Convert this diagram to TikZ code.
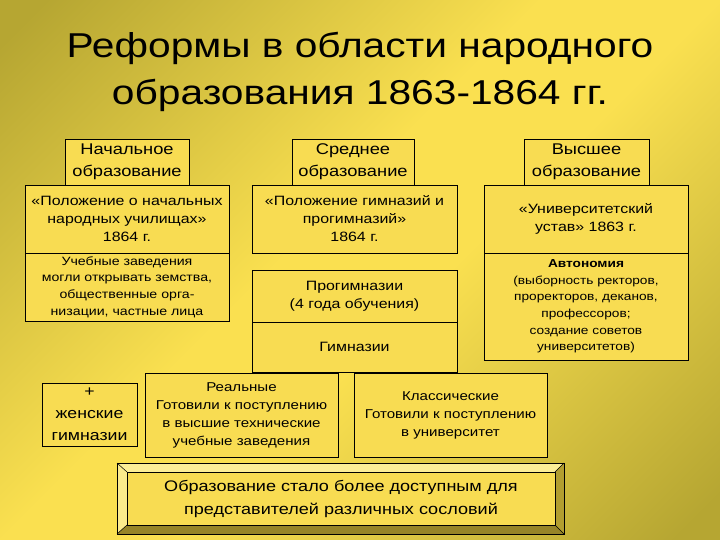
\documentclass[tikz,border=0pt]{standalone}
\usepackage{fontspec}
\setmainfont[FakeStretch=1.18]{Liberation Sans}
\definecolor{bgdark}{RGB}{182,166,50}
\definecolor{bglight}{RGB}{250,224,80}
\definecolor{boxfill}{RGB}{248,220,82}
\definecolor{bevellight}{RGB}{252,238,150}
\definecolor{beveldark}{RGB}{150,132,40}
\definecolor{bevelside}{RGB}{178,158,48}
\pgfdeclarehorizontalshading{bgshade}{100bp}{color(0bp)=(bgdark); color(17bp)=(bgdark); color(45bp)=(bglight); color(55bp)=(bglight); color(83bp)=(bgdark); color(100bp)=(bgdark)}
\begin{document}
\begin{tikzpicture}[x=1pt, y=-1pt, line cap=butt, line join=miter,
	box/.style={draw=black, line width=0.8pt, fill=boxfill, align=center, inner sep=0pt, text=black},
	txt/.style={font=\fontsize{13.5}{18}\selectfont},
	gymtxt/.style={font=\fontsize{12.8}{18}\selectfont},
	small/.style={font=\fontsize{12}{16.6}\selectfont},
	head/.style={font=\fontsize{15.5}{22}\selectfont}]
	% background
	\shade[shading=bgshade, shading angle=-45] (0,0) rectangle (720,540);
	\useasboundingbox (0,0) rectangle (720,540);
	\node[align=center, font=\fontsize{34.5}{47}\selectfont] (title) at (360,72) {Реформы в области народного\\образования 1863-1864 гг.};
	% headers
	\node[box, head, minimum width=124pt, minimum height=46pt] (nachHead) at (127,162) {Начальное\\образование};
	\node[box, head, minimum width=122pt, minimum height=46pt] (sredHead) at (353,162) {Среднее\\образование};
	\node[box, head, minimum width=125pt, minimum height=46pt] (vysHead) at (586.5,162) {Высшее\\образование};
	% documents
	\node[box, txt, minimum width=204pt, minimum height=68pt] (nachDoc) at (127,219) {«Положение о начальных\\народных училищах»\\1864 г.};
	\node[box, txt, minimum width=205pt, minimum height=68pt] (sredDoc) at (354.5,219) {«Положение гимназий и\\прогимназий»\\1864 г.};
	\node[box, txt, minimum width=204pt, minimum height=68pt] (vysDoc) at (586,219) {«Университетский\\устав» 1863 г.};
	% lower boxes
	\node[box, small, minimum width=204pt, minimum height=68pt] (nachSchool) at (127,287) {Учебные заведения\\могли открывать земства,\\общественные орга-\\низации, частные лица};
	\node[box, txt, minimum width=205pt, minimum height=52pt] (progym) at (354.5,296) {Прогимназии\\(4 года обучения)};
	\node[box, txt, minimum width=205pt, minimum height=50pt] (gym) at (354.5,347) {Гимназии};
	\node[box, font=\fontsize{11.6}{16.6}\selectfont, minimum width=204pt, minimum height=107pt] (vysAuton) at (586,306.5) {\textbf{Автономия}\\(выборность ректоров,\\проректоров, деканов,\\профессоров;\\создание советов\\университетов)};
	\node[box, font=\fontsize{15}{22}\selectfont, minimum width=95pt, minimum height=63pt] (zhenGym) at (89.5,414.5) {+\\женские\\гимназии};
	\node[box, gymtxt, minimum width=193pt, minimum height=84pt] (realGym) at (241.5,415) {Реальные\\Готовили к поступлению\\в высшие технические\\учебные заведения};
	\node[box, gymtxt, minimum width=193pt, minimum height=84pt] (klassGym) at (450.5,415) {Классические\\Готовили к поступлению\\в университет};
	% result with bevel
	\fill[bevellight] (117,463) -- (564,463) -- (555,472) -- (127,472) -- cycle;
	\fill[bevellight!85!boxfill] (117,463) -- (127,472) -- (127,525) -- (117,534) -- cycle;
	\fill[bevelside] (564,463) -- (564,534) -- (555,525) -- (555,472) -- cycle;
	\fill[beveldark] (117,534) -- (564,534) -- (555,525) -- (127,525) -- cycle;
	\draw[line width=0.8pt] (117,463) rectangle (564,534);
	\draw[line width=0.5pt] (117,463) -- (127,472) (564,463) -- (555,472) (117,534) -- (127,525) (564,534) -- (555,525);
	\node[box, font=\fontsize{15.3}{23}\selectfont, minimum width=428pt, minimum height=53pt] (result) at (341,498.5) {Образование стало более доступным для\\представителей различных сословий};
\end{tikzpicture}
\end{document}
